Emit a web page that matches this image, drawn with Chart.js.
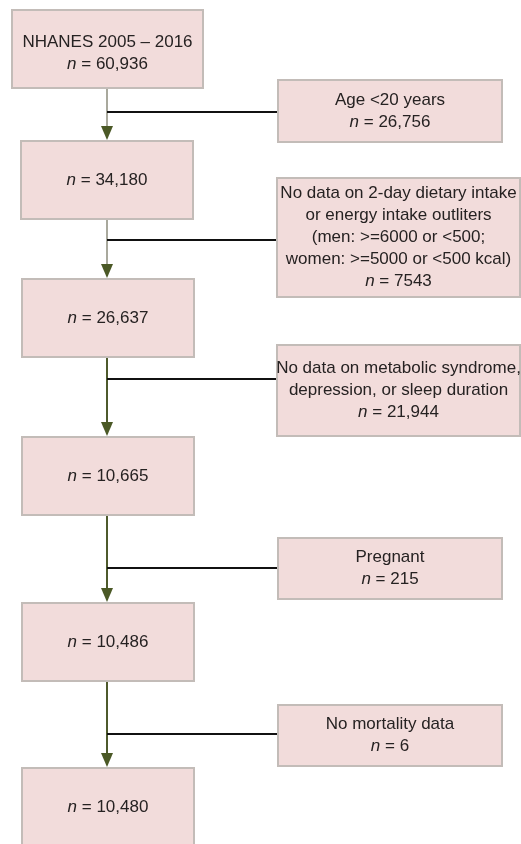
<!DOCTYPE html>
<html>
<head>
<meta charset="utf-8">
<script src="https://cdn.jsdelivr.net/npm/chart.js@4.4.1/dist/chart.umd.min.js"></script>
<style>
    html, body { margin: 0; padding: 0; background: #fff; }
    canvas { display: block; }
</style>
</head>
<body>
<canvas id="flow" width="521" height="844"></canvas>
<script>
// participant flow: counts retained at each step
const mainTitles = [["NHANES 2005 \u2013 2016"], [], [], [], [], []];
const mainCounts = [60936, 34180, 26637, 10665, 10486, 10480];

// exclusions between steps
const exclusionLabels = [
    ["Age <20 years"],
    ["No data on 2-day dietary intake", "or energy intake outliters", "(men: >=6000 or <500;", "women: >=5000 or <500 kcal)"],
    ["No data on metabolic syndrome,", "depression, or sleep duration"],
    ["Pregnant"],
    ["No mortality data"]
];
const exclusionCounts = [26756, 7543, 21944, 215, 6];

// layout, in page units of the x / y scales
const mainBoxes = [[12, 10, 203, 88], [21, 141, 193, 219], [22, 279, 194, 357], [22, 437, 194, 515], [22, 603, 194, 681], [22, 768, 194, 846]];
const sideBoxes = [[278, 80, 502, 142], [277, 178, 520, 297], [277, 345, 520, 436], [278, 538, 502, 599], [278, 705, 502, 766]];
const connectorY = [112, 240, 379, 568, 734];
const stemX = 107;

const FONT = '"Liberation Sans", Arial, sans-serif';
const fmt = n => n >= 10000 ? n.toLocaleString("en-US") : String(n);

function drawLines(ctx, cx, cy, lines, count) {
    const lh = 22;
    const all = lines.length + 1;
    let y0 = cy - (all - 1) * lh / 2;
    ctx.fillStyle = "#262222";
    ctx.textBaseline = "middle";
    ctx.textAlign = "left";
    lines.forEach((t, i) => {
        ctx.font = "17px " + FONT;
        const w = ctx.measureText(t).width;
        ctx.fillText(t, cx - w / 2, y0 + i * lh);
    });
    const yn = y0 + lines.length * lh;
    ctx.font = "italic 17px " + FONT;
    const wN = ctx.measureText("n").width;
    ctx.font = "17px " + FONT;
    const rest = " = " + fmt(count);
    const wR = ctx.measureText(rest).width;
    const x0 = cx - (wN + wR) / 2;
    ctx.font = "italic 17px " + FONT;
    ctx.fillText("n", x0, yn);
    ctx.font = "17px " + FONT;
    ctx.fillText(rest, x0 + wN, yn);
}

const flowPlugin = {
    id: "flow",
    afterDraw(chart) {
        const { ctx } = chart;
        const sx = chart.scales.x, sy = chart.scales.y;
        const px = v => sx.getPixelForValue(v);
        const py = v => sy.getPixelForValue(v);
        ctx.save();

        // stems and arrows
        for (let i = 0; i < mainBoxes.length - 1; i++) {
            const top = py(mainBoxes[i][3]);
            const tip = py(mainBoxes[i + 1][1]) - 1;
            ctx.strokeStyle = i < 2 ? "#8d8c7c" : "#4e5a2c";
            ctx.lineWidth = i < 2 ? 1.5 : 2;
            ctx.beginPath();
            ctx.moveTo(px(stemX), top);
            ctx.lineTo(px(stemX), tip - 10);
            ctx.stroke();
            ctx.fillStyle = "#4b5926";
            ctx.beginPath();
            ctx.moveTo(px(stemX), tip);
            ctx.lineTo(px(stemX) - 6, tip - 14);
            ctx.lineTo(px(stemX) + 6, tip - 14);
            ctx.closePath();
            ctx.fill();

            // connector to exclusion box
            ctx.strokeStyle = "#111";
            ctx.lineWidth = 2;
            ctx.beginPath();
            ctx.moveTo(px(stemX), py(connectorY[i]));
            ctx.lineTo(px(sideBoxes[i][0]), py(connectorY[i]));
            ctx.stroke();
        }

        // boxes
        const box = b => {
            const x1 = px(b[0]), y1 = py(b[1]), x2 = px(b[2]), y2 = py(b[3]);
            ctx.fillStyle = "#f2dcdb";
            ctx.fillRect(x1, y1, x2 - x1, y2 - y1);
            ctx.strokeStyle = "#c3bcb8";
            ctx.lineWidth = 2;
            ctx.strokeRect(x1, y1, x2 - x1, y2 - y1);
        };
        mainBoxes.forEach(box);
        sideBoxes.forEach(box);

        // text (first box sits a little low in the original)
        mainBoxes.forEach((b, i) => {
            const nudge = i === 0 ? 4 : 0;
            drawLines(ctx, (px(b[0]) + px(b[2])) / 2, (py(b[1]) + py(b[3])) / 2 + nudge, mainTitles[i], mainCounts[i]);
        });
        sideBoxes.forEach((b, i) => {
            drawLines(ctx, (px(b[0]) + px(b[2])) / 2, (py(b[1]) + py(b[3])) / 2, exclusionLabels[i], exclusionCounts[i]);
        });
        ctx.restore();
    }
};

new Chart(document.getElementById("flow"), {
    type: "scatter",
    data: { datasets: [{ data: [] }] },
    options: {
        responsive: false,
        animation: false,
        events: [],
        layout: { padding: 0 },
        plugins: {
            legend: { display: false },
            tooltip: { enabled: false }
        },
        scales: {
            x: { type: "linear", min: 0, max: 521, display: false },
            y: { type: "linear", min: 0, max: 844, reverse: true, display: false }
        }
    },
    plugins: [flowPlugin]
});
</script>
</body>
</html>
